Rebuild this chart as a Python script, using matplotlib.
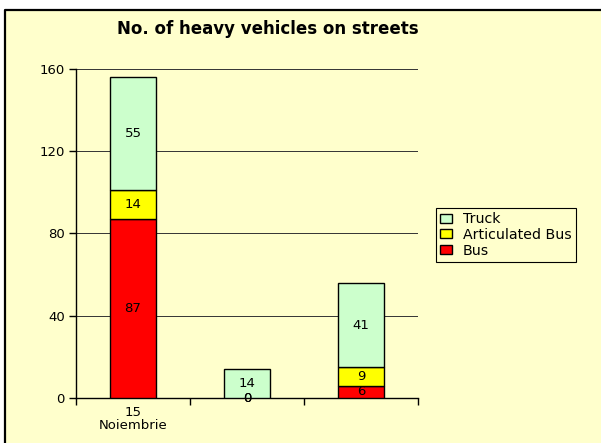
import numpy as np
import matplotlib.pyplot as plt
from matplotlib.patches import Rectangle
from matplotlib.lines import Line2D

categories = ["15\nNoiembrie", "", ""]
bus = [87, 0, 6]
articulated_bus = [14, 0, 9]
truck = [55, 14, 41]
y_ticks = [0, 40, 80, 120, 160]

bg = "#FFFFCC"
plt.rcParams['font.family'] = ['DejaVu Sans']
fs = 9.5

fig = plt.figure(figsize=(6.01, 4.43), dpi=100)
fig.patch.set_facecolor("white")
# yellow chart area with a black frame on top/left only
x0, y0 = 5 / 601, 1 - 10 / 443
fig.patches.append(Rectangle((x0, 0), 1 - x0, y0, transform=fig.transFigure,
                             facecolor=bg, edgecolor="none", zorder=-5))
fig.lines.append(Line2D([x0, x0, 1], [0, y0, y0], transform=fig.transFigure,
                        color="black", linewidth=1.6, zorder=-4))

ax = fig.add_axes([76 / 601, 1 - 398 / 443, 342 / 601, 329 / 443])
ax.set_facecolor(bg)

x = np.arange(len(categories))
w = 0.41
b1 = ax.bar(x, bus, w, color="#FF0000", edgecolor="black", linewidth=1,
            label="Bus", zorder=3)
b2 = ax.bar(x, articulated_bus, w, bottom=bus, color="#FFFF00",
            edgecolor="black", linewidth=1, label="Articulated Bus", zorder=3)
bottom2 = np.array(bus) + np.array(articulated_bus)
b3 = ax.bar(x, truck, w, bottom=bottom2, color="#CCFFCC",
            edgecolor="black", linewidth=1, label="Truck", zorder=3)

for bars in (b1, b2, b3):
    ax.bar_label(bars, label_type="center", fontsize=fs, zorder=4)

ax.set_xlim(-0.5, len(categories) - 0.5)
ax.set_ylim(0, 160)
ax.set_yticks(y_ticks)
ax.tick_params(axis="y", labelsize=fs, length=5, width=1, pad=3)
ax.set_xticks(x)
ax.set_xticklabels(categories, fontsize=fs, linespacing=1.0)
ax.tick_params(axis="x", length=0, pad=6)
ax.set_xticks(np.arange(len(categories) + 1) - 0.5, minor=True)
ax.tick_params(axis="x", which="minor", length=5, width=1)

ax.yaxis.grid(True, color="#333333", linewidth=0.7, zorder=0)
ax.set_axisbelow(True)
for s in ("top", "right"):
    ax.spines[s].set_visible(False)
ax.spines["left"].set_linewidth(1)
ax.spines["bottom"].set_linewidth(1)

fig.text(268 / 601, 1 - 29 / 443, "No. of heavy vehicles on streets",
         ha="center", va="center", fontsize=12, fontweight="bold")

handles = [b3, b2, b1]
leg = fig.legend(handles, ["Truck", "Articulated Bus", "Bus"],
                 loc="upper left", bbox_to_anchor=(436 / 601, 1 - 208 / 443),
                 fontsize=10.2, frameon=True, fancybox=False,
                 edgecolor="black", facecolor=bg, framealpha=1,
                 handlelength=0.8, handleheight=0.6, handletextpad=0.8,
                 labelspacing=0.12, borderpad=0.3, borderaxespad=0)
leg.get_frame().set_linewidth(0.8)

fig.savefig("out.png", dpi=100)
